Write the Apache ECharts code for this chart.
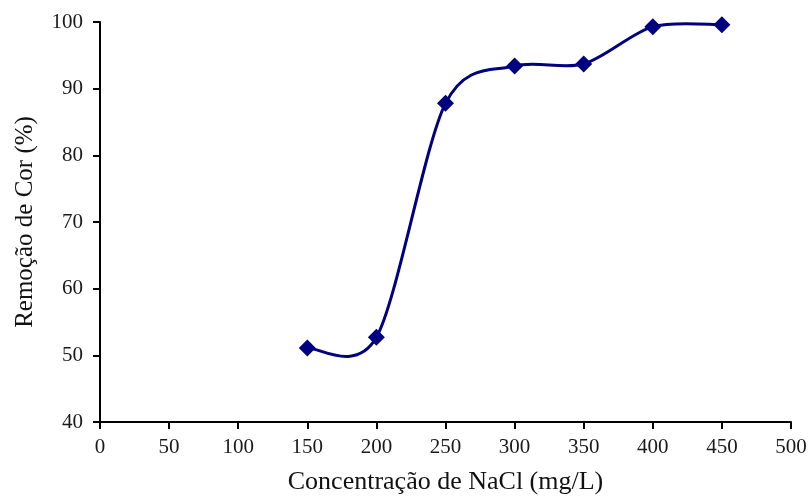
<!DOCTYPE html>
<html>
<head>
<meta charset="utf-8">
<script src="https://cdn.jsdelivr.net/npm/echarts@6/dist/echarts.min.js"></script>
<style>
  html, body { margin: 0; padding: 0; background: #fff; }
  #chart { width: 810px; height: 500px; }
</style>
</head>
<body>
<div id="chart"></div>
<script>
// NaCl concentration (mg/L) and colour removal (%)
const concentrations = [150, 200, 250, 300, 350, 400, 450];
const removal = [51.1, 52.7, 87.8, 93.4, 93.7, 99.3, 99.6];

const xTicks = { min: 0, max: 500, interval: 50 };
const yTicks = { min: 40, max: 100, interval: 10 };

const font = '"Liberation Serif", "Times New Roman", serif';
const navy = '#000080';

const points = concentrations.map((c, i) => [c, removal[i]]);

// Smoothed curve through the data (cardinal spline),
// built in pixel space from the axis scales.
const tension = 0.15;
function renderCurve(params, api) {
  if (params.dataIndex !== 0) return null;
  const px = points.map(p => api.coord(p));
  const n = px.length;
  const segs = [];
  for (let i = 0; i < n - 1; i++) {
    const p0 = px[Math.max(i - 1, 0)];
    const p1 = px[i];
    const p2 = px[i + 1];
    const p3 = px[Math.min(i + 2, n - 1)];
    segs.push({
      type: 'bezierCurve',
      shape: {
        x1: p1[0], y1: p1[1],
        cpx1: p1[0] + (p2[0] - p0[0]) * tension, cpy1: p1[1] + (p2[1] - p0[1]) * tension,
        cpx2: p2[0] - (p3[0] - p1[0]) * tension, cpy2: p2[1] - (p3[1] - p1[1]) * tension,
        x2: p2[0], y2: p2[1]
      },
      style: { stroke: navy, lineWidth: 3, fill: null }
    });
  }
  return { type: 'group', children: segs };
}

const chart = echarts.init(document.getElementById('chart'));
chart.setOption({
  animation: false,
  backgroundColor: '#ffffff',
  grid: { left: 100, right: 19, top: 22, bottom: 78, outerBoundsMode: 'none' },
  xAxis: {
    type: 'value',
    min: xTicks.min, max: xTicks.max, interval: xTicks.interval,
    name: 'Concentração de NaCl (mg/L)',
    nameLocation: 'middle',
    nameGap: 47,
    nameTextStyle: { fontFamily: font, fontSize: 26, color: '#111' },
    axisLine: { lineStyle: { color: '#000', width: 2 } },
    axisTick: { show: true, length: 7, lineStyle: { color: '#000', width: 2 } },
    axisLabel: { fontFamily: font, fontSize: 21, color: '#1a1a1a', margin: 15 },
    splitLine: { show: false }
  },
  yAxis: {
    type: 'value',
    min: yTicks.min, max: yTicks.max, interval: yTicks.interval,
    name: 'Remoção de Cor (%)',
    nameLocation: 'middle',
    nameGap: 62,
    nameRotate: 90,
    nameTextStyle: { fontFamily: font, fontSize: 25, color: '#111' },
    axisLine: { show: true, lineStyle: { color: '#000', width: 2 } },
    axisTick: { show: true, length: 7, lineStyle: { color: '#000', width: 2 } },
    axisLabel: { fontFamily: font, fontSize: 21, color: '#1a1a1a', margin: 17 },
    splitLine: { show: false }
  },
  series: [
    {
      type: 'custom',
      renderItem: renderCurve,
      data: points,
      z: 2
    },
    {
      type: 'scatter',
      data: points,
      symbol: 'diamond',
      symbolSize: 17,
      itemStyle: { color: navy, opacity: 1 },
      z: 3
    }
  ]
});
</script>
</body>
</html>
